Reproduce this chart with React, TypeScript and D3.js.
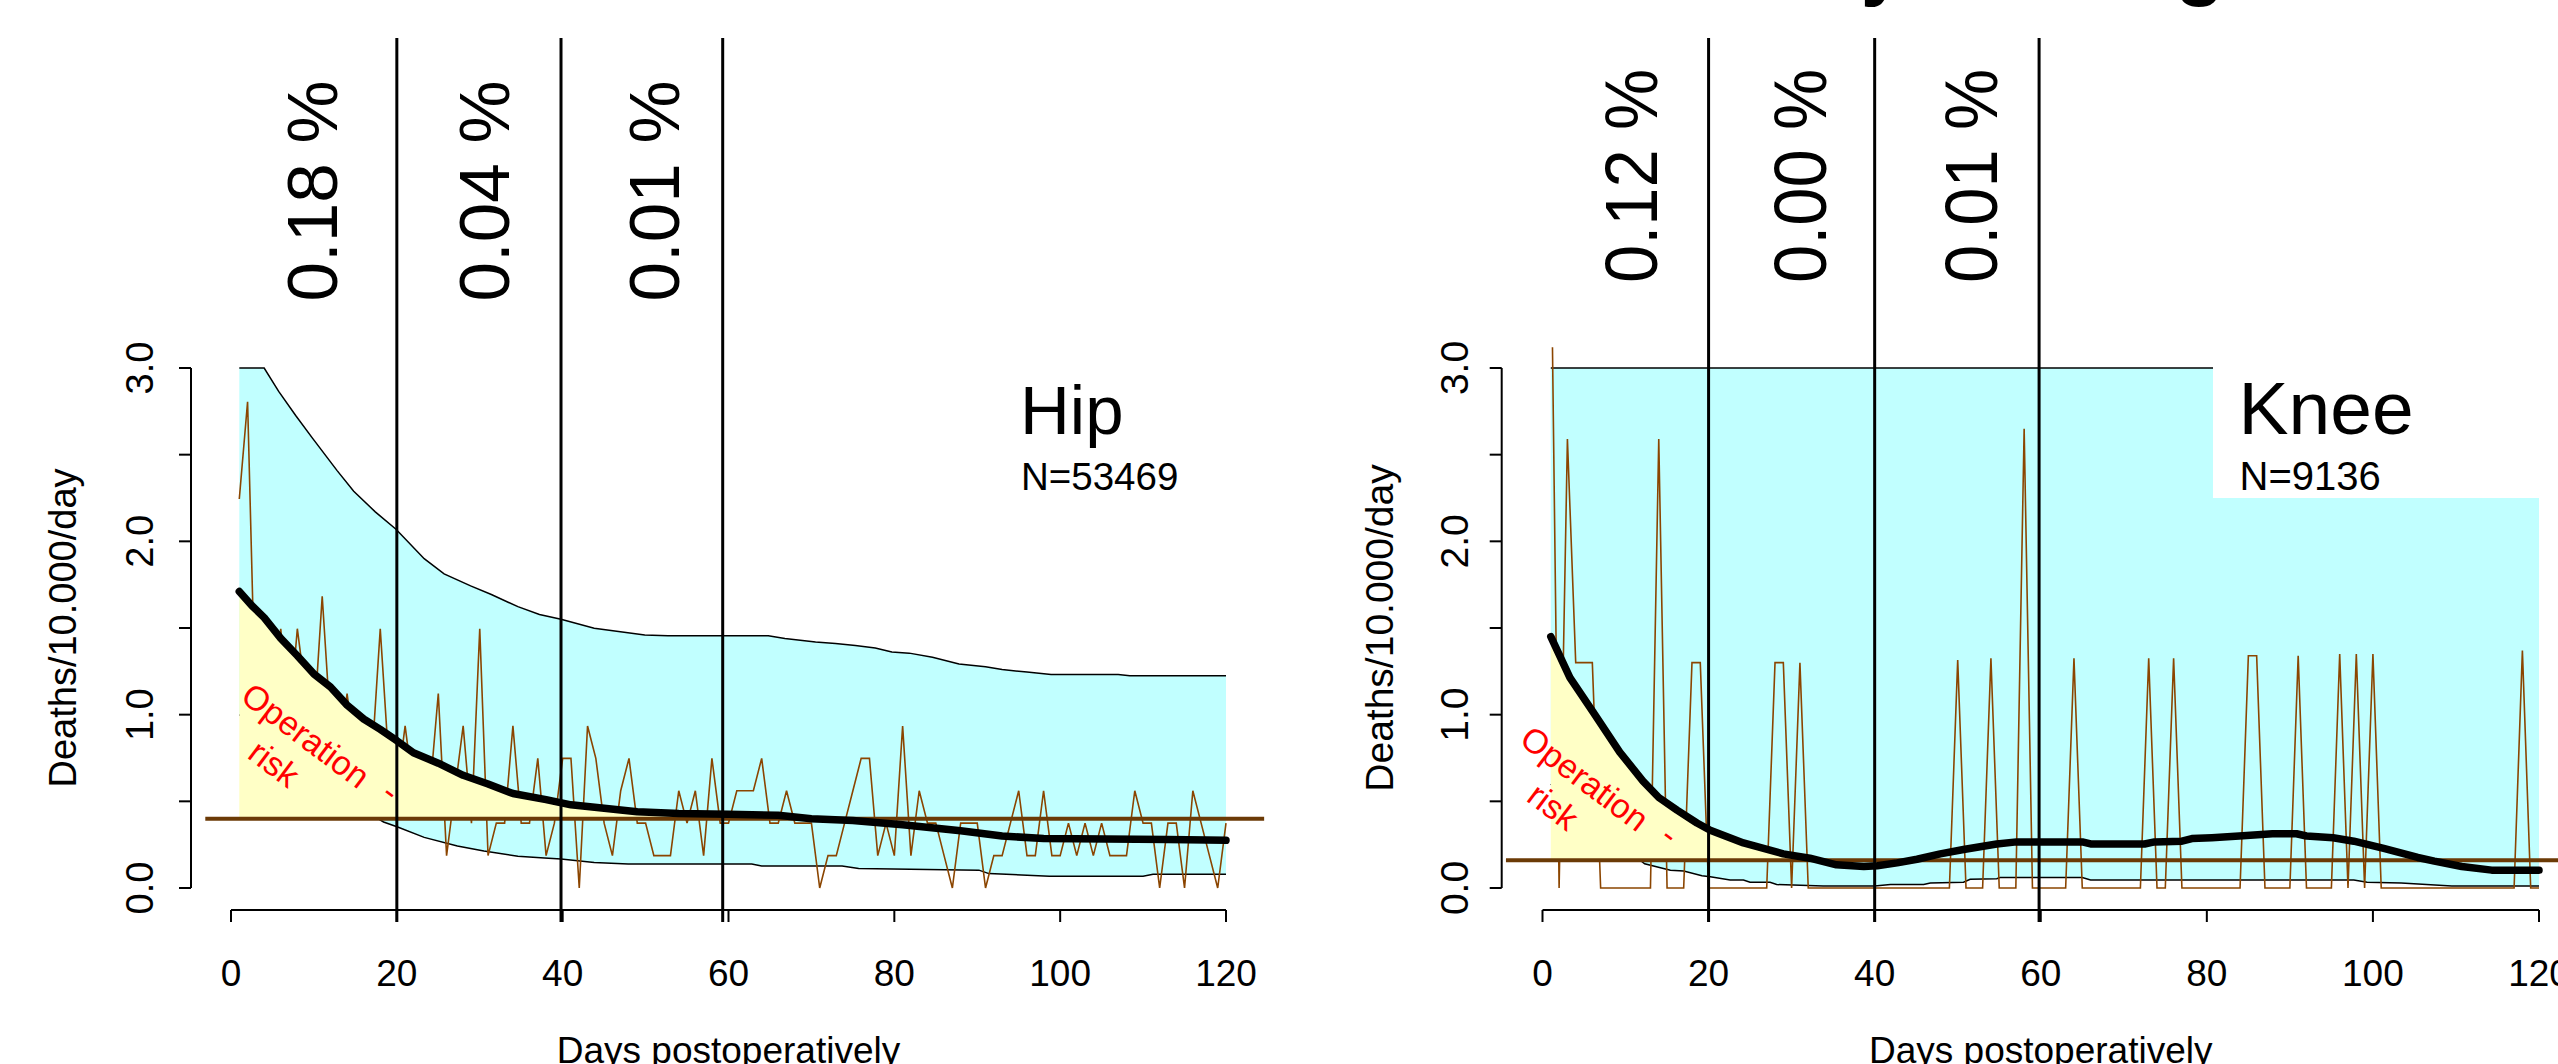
import React, { useEffect } from 'react';
import * as d3 from 'd3';

const W = 2558;
const H = 1064;
const FONT = '"Liberation Sans", Arial, Helvetica, sans-serif';

// ---------- shared categories / ticks ----------
const days = d3.range(1, 121);
const xTickValues = [0, 20, 40, 60, 80, 100, 120];
const yTickValues = [0, 0.5, 1, 1.5, 2, 2.5, 3];
const yTickLabels = ['0.0', '', '1.0', '', '2.0', '', '3.0'];
const xTitle = 'Days postoperatively';
const yTitle = 'Deaths/10.000/day';
const riskWords = ['Operation', 'risk', '-'];

// ---------- Hip ----------
const hipRaw = [
  2.244, 2.805, 0.935, 1.122, 0.935, 1.496, 0.935, 1.496, 1.122, 0.935,
  1.683, 0.935, 0.748, 1.122, 0.748, 0.935, 0.748, 1.496, 0.748, 0.561,
  0.935, 0.561, 0.561, 0.561, 1.122, 0.187, 0.561, 0.935, 0.374, 1.496,
  0.187, 0.374, 0.374, 0.935, 0.374, 0.374, 0.748, 0.187, 0.374, 0.748,
  0.748, 0, 0.935, 0.748, 0.374, 0.187, 0.561, 0.748, 0.374, 0.374,
  0.187, 0.187, 0.187, 0.561, 0.374, 0.561, 0.187, 0.748, 0.374, 0.374,
  0.561, 0.561, 0.561, 0.748, 0.374, 0.374, 0.561, 0.374, 0.374, 0.374,
  0, 0.187, 0.187, 0.374, 0.561, 0.748, 0.748, 0.187, 0.374, 0.187,
  0.935, 0.187, 0.561, 0.374, 0.374, 0.187, 0, 0.374, 0.374, 0.374,
  0, 0.187, 0.187, 0.374, 0.561, 0.187, 0.187, 0.561, 0.187, 0.187,
  0.374, 0.187, 0.374, 0.187, 0.374, 0.187, 0.187, 0.187, 0.561, 0.374,
  0.374, 0, 0.374, 0.374, 0, 0.561, 0.374, 0.187, 0, 0.374,
];
const hipSmoothDays = [1, 2.5, 4, 6, 8, 10, 12, 14, 16, 18, 20, 22, 25, 28, 31, 34, 38, 41, 45, 49, 54, 60, 66, 70, 75, 81, 88, 93, 98, 113, 120];
const hipSmoothVals = [1.71, 1.63, 1.56, 1.44, 1.34, 1.235, 1.16, 1.055, 0.975, 0.915, 0.85, 0.78, 0.72, 0.65, 0.6, 0.545, 0.51, 0.48, 0.46, 0.44, 0.43, 0.425, 0.42, 0.4, 0.39, 0.365, 0.33, 0.3, 0.285, 0.28, 0.275];
const hipUpperDays = [1, 4, 5.75, 7.8, 9.8, 12.8, 14.8, 17.4, 19.9, 23.3, 25.7, 28.9, 31.4, 34.6, 37.2, 39.8, 43.8, 49.9, 52.7, 64.8, 66.8, 70.5, 72.9, 75.3, 77.7, 79.7, 81.8, 84.6, 87.8, 91, 93, 96, 98.9, 107, 108.4, 120];
const hipUpperVals = [3.0, 3.0, 2.865, 2.726, 2.597, 2.408, 2.289, 2.17, 2.07, 1.9, 1.812, 1.743, 1.693, 1.623, 1.578, 1.55, 1.498, 1.46, 1.455, 1.455, 1.439, 1.419, 1.411, 1.399, 1.385, 1.361, 1.355, 1.331, 1.292, 1.276, 1.26, 1.246, 1.232, 1.232, 1.224, 1.224];
const hipLowerDays = [1, 5, 10, 15, 18.4, 20.1, 23.3, 27.3, 30.5, 34.6, 37.8, 39.8, 43.8, 47.9, 62.8, 64, 73.7, 75.7, 90.2, 91.4, 98.7, 110, 111.2, 120];
const hipLowerVals = [1.0, 0.85, 0.65, 0.48, 0.381, 0.352, 0.292, 0.242, 0.213, 0.183, 0.173, 0.167, 0.147, 0.139, 0.139, 0.127, 0.127, 0.113, 0.103, 0.083, 0.068, 0.068, 0.079, 0.079];
const hipBase = 0.40;
const hipPct = ['0.18 %', '0.04 %', '0.01 %'];
const hipCuts = [20, 39.8, 59.3];

// ---------- Knee ----------
const kneeRaw = [
  3.9, 0, 2.59, 1.3, 1.3, 1.3, 0, 0, 0, 0,
  0, 0, 0, 2.59, 0, 0, 0, 1.3, 1.3, 0,
  0, 0, 0, 0, 0, 0, 0, 1.3, 1.3, 0,
  1.3, 0, 0, 0, 0, 0, 0, 0, 0, 0,
  0, 0, 0, 0, 0, 0, 0, 0, 0, 1.315,
  0, 0, 0, 1.325, 0, 0, 0, 2.65, 0, 0,
  0, 0, 0, 1.325, 0, 0, 0, 0, 0, 0,
  0, 0, 1.325, 0, 0, 1.325, 0, 0, 0, 0,
  0, 0, 0, 0, 1.34, 1.34, 0, 0, 0, 0,
  1.34, 0, 0, 0, 0, 1.35, 0, 1.35, 0, 1.35,
  0, 0, 0, 0, 0, 0, 0, 0, 0, 0,
  0, 0, 0, 0, 0, 0, 0, 1.37, 0, 0,
];
const kneeSmoothDays = [1, 3.3, 6.1, 9.3, 12.1, 14, 16.2, 18.6, 20.2, 24.2, 29, 32.2, 35.4, 38.7, 40.3, 42.7, 45.1, 47.9, 50.7, 54.7, 57.1, 65, 66, 72.5, 73.7, 77, 78.2, 80.6, 83.9, 87.9, 90.8, 92, 95.2, 97.7, 101.3, 105.4, 107.4, 110.7, 114.3, 120];
const kneeSmoothVals = [1.45, 1.214, 1.015, 0.784, 0.617, 0.522, 0.449, 0.375, 0.333, 0.26, 0.197, 0.172, 0.134, 0.124, 0.128, 0.145, 0.166, 0.197, 0.222, 0.254, 0.266, 0.266, 0.254, 0.254, 0.266, 0.27, 0.285, 0.29, 0.3, 0.313, 0.313, 0.3, 0.29, 0.27, 0.228, 0.176, 0.155, 0.124, 0.103, 0.103];
const kneeUpperDays = [1, 120];
const kneeUpperVals = [3.0, 3.0];
const kneeLowerDays = [1, 5, 9, 11, 12.3, 15.4, 17, 19.2, 20.2, 22.6, 24.2, 25, 27.4, 28.2, 33.8, 40, 41.9, 45.9, 46.7, 50.7, 51.5, 54.7, 55.1, 65, 66, 97.7, 99.3, 103.4, 109.5, 120];
const kneeLowerVals = [0.6, 0.4, 0.25, 0.19, 0.14, 0.102, 0.098, 0.071, 0.065, 0.046, 0.046, 0.033, 0.033, 0.02, 0.012, 0.012, 0.02, 0.02, 0.029, 0.033, 0.05, 0.054, 0.06, 0.06, 0.046, 0.046, 0.033, 0.029, 0.012, 0.012];
const kneeBase = 0.16;
const kneePct = ['0.12 %', '0.00 %', '0.01 %'];
const kneeCuts = [20, 40, 59.8];

// ---------- styling ----------
const CYAN = '#c1ffff';
const YELLOW = '#ffffc6';
const RAW = '#8b4500';
const BASE = '#6b3a06';

type PanelCfg = {
  id: string;
  x0: number; x1: number;
  axisX: number; tickLabelX: number; titleX: number; tickFont: number; titleFont: number;
  raw: number[];
  smoothDays: number[]; smoothVals: number[];
  upperDays: number[]; upperVals: number[];
  lowerDays: number[]; lowerVals: number[];
  base: number; baseFrom: number; baseTo: number;
  yellowEnd: number;
  cuts: number[];
  pct: string[]; pctDays: number[]; pctFont: number; pctStartY: number; pctLength?: number;
  name: string; n: string; nameX: number; nameFont: number; nFont: number;
  legendBox?: [number, number, number, number];
  risk: { ox: number; oy: number; rx: number; ry: number; dx: number; dy: number };
};

const Y0 = 888, Y3 = 368;
const XAXIS_Y = 910;
const RISK_FONT = 34;

const hipCfg: PanelCfg = {
  id: 'hip', x0: 231, x1: 1226,
  axisX: 191, tickLabelX: 153, titleX: 76, tickFont: 38, titleFont: 38,
  raw: hipRaw, smoothDays: hipSmoothDays, smoothVals: hipSmoothVals,
  upperDays: hipUpperDays, upperVals: hipUpperVals, lowerDays: hipLowerDays, lowerVals: hipLowerVals,
  base: hipBase, baseFrom: -3.1, baseTo: 124.6, yellowEnd: 75,
  cuts: hipCuts,
  pct: hipPct, pctDays: [9.7, 30.45, 51.0], pctFont: 71, pctStartY: 301.5,
  name: 'Hip', n: 'N=53469', nameX: 1020, nameFont: 69, nFont: 38.5,
  risk: { ox: 239, oy: 700, rx: 267, ry: 773, dx: 384, dy: 801 },
};

const kneeCfg: PanelCfg = {
  id: 'knee', x0: 1542.5, x1: 2539,
  axisX: 1501.7, tickLabelX: 1468, titleX: 1393, tickFont: 39, titleFont: 39,
  raw: kneeRaw, smoothDays: kneeSmoothDays, smoothVals: kneeSmoothVals,
  upperDays: kneeUpperDays, upperVals: kneeUpperVals, lowerDays: kneeLowerDays, lowerVals: kneeLowerVals,
  base: kneeBase, baseFrom: -4.4, baseTo: 124.8, yellowEnd: 36,
  cuts: kneeCuts,
  pct: kneePct, pctDays: [10.6, 30.9, 51.5], pctFont: 74, pctStartY: 283, pctLength: 214,
  name: 'Knee', n: 'N=9136', nameX: 2238.5, nameFont: 75, nFont: 40,
  legendBox: [2213, 300, 400, 198],
  risk: { ox: 1518, oy: 743, rx: 1546, ry: 816, dx: 1663, dy: 844 },
};

function Panel({ p }: { p: PanelCfg }) {
  const x = d3.scaleLinear().domain([0, 120]).range([p.x0, p.x1]);
  const y = d3.scaleLinear().domain([0, 3]).range([Y0, Y3]);
  const pts = (ds: number[], vs: number[]) => ds.map((d, i) => [x(d), y(vs[i])] as [number, number]);
  const line = d3.line();
  const upperPts = pts(p.upperDays, p.upperVals);
  const lowerPts = pts(p.lowerDays, p.lowerVals);
  const band = line([...upperPts, ...lowerPts.slice().reverse()]) + 'Z';
  const smoothPairs = p.smoothDays.map((d, i) => [d, p.smoothVals[i]] as [number, number]);
  const yellow = d3
    .area<[number, number]>()
    .x((d) => x(d[0]))
    .y0(y(p.base))
    .y1((d) => y(Math.max(d[1], p.base)))(smoothPairs.filter((d) => d[0] <= p.yellowEnd));
  const rawPath = line(days.map((d, i) => [x(d), y(p.raw[i])] as [number, number]));
  const smoothPath = line(pts(p.smoothDays, p.smoothVals));
  const clipX0 = x(-4.8), clipX1 = x(124.8);
  const clipY0 = y(3.12), clipY1 = y(-0.12);
  const midX = (x(0) + x(120)) / 2;
  const rot = 37;

  return (
    <g>
      <defs>
        <clipPath id={`clip-${p.id}`}>
          <rect x={clipX0} y={clipY0} width={clipX1 - clipX0} height={clipY1 - clipY0} />
        </clipPath>
      </defs>
      <g clipPath={`url(#clip-${p.id})`}>
        <path d={band} fill={CYAN} stroke="none" />
        <path d={line(upperPts) || ''} fill="none" stroke="#000" strokeWidth={1.5} />
        <path d={line(lowerPts) || ''} fill="none" stroke="#000" strokeWidth={1.5} />
        <path d={rawPath || ''} fill="none" stroke={RAW} strokeWidth={1.6} strokeLinejoin="miter" />
        <path d={yellow || ''} fill={YELLOW} stroke="none" />
      </g>
      <line x1={x(p.baseFrom)} x2={x(p.baseTo)} y1={y(p.base)} y2={y(p.base)} stroke={BASE} strokeWidth={4} />
      <path d={smoothPath || ''} fill="none" stroke="#000" strokeWidth={7.5} strokeLinecap="round" strokeLinejoin="round" />
      {p.cuts.map((c, i) => (
        <line key={i} x1={x(c)} x2={x(c)} y1={38} y2={922} stroke="#000" strokeWidth={3} />
      ))}
      {p.legendBox && (
        <rect x={p.legendBox[0]} y={p.legendBox[1]} width={p.legendBox[2]} height={p.legendBox[3]} fill="#fff" />
      )}
      {/* y axis */}
      <line x1={p.axisX} x2={p.axisX} y1={y(0)} y2={y(3)} stroke="#000" strokeWidth={2} />
      {yTickValues.map((t, i) => (
        <g key={i}>
          <line x1={p.axisX - 12} x2={p.axisX} y1={y(t)} y2={y(t)} stroke="#000" strokeWidth={2} />
          {yTickLabels[i] && (
            <text
              transform={`translate(${p.tickLabelX},${y(t)}) rotate(-90)`}
              textAnchor="middle"
              fontSize={p.tickFont}
              fontFamily={FONT}
            >
              {yTickLabels[i]}
            </text>
          )}
        </g>
      ))}
      <text
        transform={`translate(${p.titleX},${(y(0) + y(3)) / 2}) rotate(-90)`}
        textAnchor="middle"
        fontSize={p.titleFont}
        fontFamily={FONT}
      >
        {yTitle}
      </text>
      {/* x axis */}
      <line x1={x(0)} x2={x(120)} y1={XAXIS_Y} y2={XAXIS_Y} stroke="#000" strokeWidth={2} />
      {xTickValues.map((t) => (
        <g key={t}>
          <line x1={x(t)} x2={x(t)} y1={XAXIS_Y} y2={XAXIS_Y + 12} stroke="#000" strokeWidth={2} />
          <text x={x(t)} y={986} textAnchor="middle" fontSize={37} fontFamily={FONT}>
            {t}
          </text>
        </g>
      ))}
      <text x={midX} y={1063} textAnchor="middle" fontSize={37} fontFamily={FONT}>
        {xTitle}
      </text>
      {/* percentages */}
      {p.pct.map((s, i) => (
        <text
          key={i}
          transform={`translate(${x(p.pctDays[i]) + 0.358 * p.pctFont},${p.pctStartY}) rotate(-90)`}
          fontSize={p.pctFont}
          fontFamily={FONT}
          textLength={p.pctLength}
          lengthAdjust={p.pctLength ? 'spacingAndGlyphs' : undefined}
        >
          {s}
        </text>
      ))}
      {/* legend */}
      <text x={p.nameX} y={434} fontSize={p.nameFont} fontFamily={FONT}>
        {p.name}
      </text>
      <text x={p.nameX + 1} y={490} fontSize={p.nFont} fontFamily={FONT}>
        {p.n}
      </text>
      {/* operation risk */}
      <text transform={`translate(${p.risk.ox},${p.risk.oy}) rotate(${rot})`} fontSize={RISK_FONT} fill="#ff0000" fontFamily={FONT}>
        {riskWords[0]}
      </text>
      <text transform={`translate(${p.risk.rx},${p.risk.ry}) rotate(${rot})`} fontSize={RISK_FONT} fill="#ff0000" textAnchor="middle" fontFamily={FONT}>
        {riskWords[1]}
      </text>
      <text transform={`translate(${p.risk.dx},${p.risk.dy}) rotate(${rot})`} fontSize={RISK_FONT} fill="#ff0000" textAnchor="middle" fontFamily={FONT}>
        {riskWords[2]}
      </text>
    </g>
  );
}

export default function App() {
  useEffect(() => {
    document.body.style.margin = '0';
    document.body.style.overflow = 'hidden';
  }, []);
  return (
    <svg
      width={W}
      height={H}
      viewBox={`0 0 ${W} ${H}`}
      style={{ position: 'absolute', left: 0, top: 0, background: '#fff', display: 'block' }}
    >
      <rect x={0} y={0} width={W} height={H} fill="#fff" />
      {/* descenders of a title cut off at the top edge */}
      <text x={1883} y={-10} textAnchor="middle" fontSize={80} fontWeight="bold" fontFamily={FONT}>y</text>
      <text x={2200} y={-10} textAnchor="middle" fontSize={80} fontWeight="bold" fontFamily={FONT}>g</text>
      <Panel p={hipCfg} />
      <Panel p={kneeCfg} />
    </svg>
  );
}
